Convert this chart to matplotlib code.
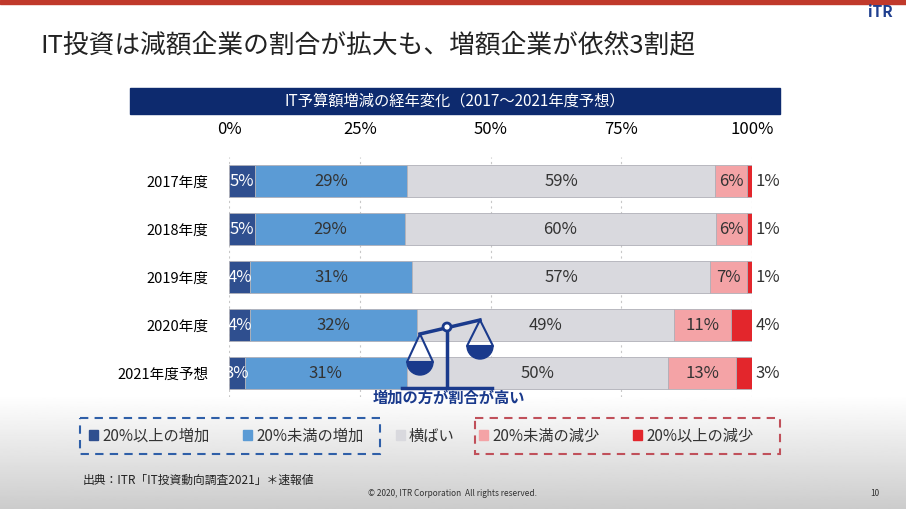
import numpy as np
import matplotlib.pyplot as plt
from matplotlib.patches import Rectangle, Wedge

plt.rcParams['font.family'] = ['Noto Sans CJK JP', 'DejaVu Sans']

years = ['2017年度', '2018年度', '2019年度', '2020年度', '2021年度予想']
labels = ['20%以上の増加', '20%未満の増加', '横ばい', '20%未満の減少', '20%以上の減少']
big_up = [5, 5, 4, 4, 3]
small_up = [29, 29, 31, 32, 31]
flat = [59, 60, 57, 49, 50]
small_down = [6, 6, 7, 11, 13]
big_down = [1, 1, 1, 4, 3]
colors = ['#2f4f8f', '#5b9bd5', '#d9d9de', '#f4a3a6', '#e3262c']

series = np.array([big_up, small_up, flat, small_down, big_down], dtype=float)
shares = series / series.sum(axis=0) * 100

fig = plt.figure(figsize=(9.06, 5.09), dpi=100)
fig.patch.set_facecolor('white')

# slide decorations
bg = fig.add_axes([0, 0, 1, 1])
bg.set_xlim(0, 906)
bg.set_ylim(509, 0)
bg.axis('off')
grad = np.linspace(1, 0.8, 100).reshape(-1, 1)
bg.imshow(grad, extent=[0, 906, 509, 395], cmap='gray', vmin=0, vmax=1, aspect='auto', zorder=0)
bg.add_patch(Rectangle((0, 0), 906, 4, color='#c0392b'))
bg.text(40, 45, 'IT投資は減額企業の割合が拡大も、増額企業が依然3割超', fontsize=18.5, va='center', color='#222222')
bg.text(880, 12, 'iTR', fontsize=11, fontweight='bold', color='#1f3f8f', ha='center', va='center')
bg.add_patch(Rectangle((130, 88), 650, 26, color='#0d2a6e'))
bg.text(455, 101, 'IT予算額増減の経年変化（2017～2021年度予想）', fontsize=11, color='white', ha='center', va='center')

# legend boxes
bg.add_patch(Rectangle((80, 418), 300, 36, fill=False, ls=(0, (4, 3)), ec='#2f5fa8', lw=1.5, zorder=3))
bg.add_patch(Rectangle((475, 418), 305, 36, fill=False, ls=(0, (4, 3)), ec='#c0505a', lw=1.5, zorder=3))
leg_x = [93, 247, 400, 483, 637]
for x, lab, c in zip(leg_x, labels, colors):
    bg.add_patch(Rectangle((x - 4, 430), 9, 10, color=c, zorder=3))
    bg.text(x + 9, 436, lab, fontsize=11, va='center', color='#333333', zorder=3)

bg.text(83, 480, '出典：ITR「IT投資動向調査2021」＊速報値', fontsize=8.5, va='center', color='#222222')
bg.text(453, 494, '© 2020, ITR Corporation  All rights reserved.', fontsize=6, ha='center', va='center', color='#333333')
bg.text(875, 494, '10', fontsize=6, ha='center', va='center', color='#333333')

# chart
ax = fig.add_axes([229 / 906, 1 - 397 / 509, 523 / 906, 240 / 509])
y = np.arange(len(years))
left = np.zeros(len(years))
for i in range(5):
    ax.barh(y, shares[i], left=left, height=0.67, color=colors[i], edgecolor='#b0b0b8', lw=0.6, zorder=2)
    for j in range(len(years)):
        val = int(series[i][j])
        cx = left[j] + shares[i][j] / 2
        if i == 4:
            cx = 100.6
        ax.text(cx, y[j], f'{val}%', ha='center' if i < 4 else 'left', va='center', fontsize=12,
                color='white' if i == 0 else '#333333', zorder=4)
    left += shares[i]

ax.set_xlim(0, 100)
ax.set_ylim(len(years) - 0.5, -0.5)
ax.set_yticks(y)
ax.set_yticklabels(years, fontsize=10.5)
ax.set_xticks([0, 25, 50, 75, 100])
ax.set_xticklabels(['0%', '25%', '50%', '75%', '100%'], fontsize=12)
ax.xaxis.tick_top()
ax.tick_params(length=0, pad=14)
ax.tick_params(axis='y', pad=15)
ax.grid(axis='x', ls=(0, (2, 3)), color='#c8c8c8', zorder=0)
for s in ax.spines.values():
    s.set_visible(False)
ax.patch.set_alpha(0)

# balance icon on an overlay
top = fig.add_axes([0, 0, 1, 1])
top.set_xlim(0, 906)
top.set_ylim(509, 0)
top.axis('off')
navy = '#1a3a8c'
top.plot([447, 447], [327, 388], color=navy, lw=2.5)
top.plot([402, 492], [388, 388], color=navy, lw=2.5)
top.plot([420, 480], [334, 320], color=navy, lw=2.5)
top.add_patch(plt.Circle((447, 327), 4, fc='white', ec=navy, lw=2, zorder=6))
top.plot([420, 407, 433, 420], [334, 362, 362, 334], color=navy, lw=1.5)
top.plot([480, 467, 493, 480], [320, 346, 346, 320], color=navy, lw=1.5)
top.add_patch(Wedge((420, 362), 13, 0, 180, color=navy))
top.add_patch(Wedge((480, 346), 13, 0, 180, color=navy))
top.text(449, 398, '増加の方が割合が高い', fontsize=11, fontweight='bold', color=navy, ha='center', va='center')

fig.savefig('out.png', dpi=100)
